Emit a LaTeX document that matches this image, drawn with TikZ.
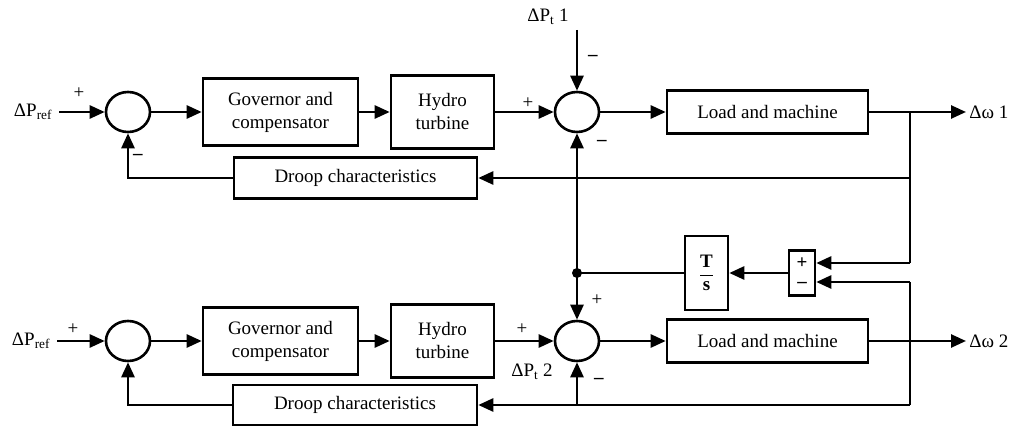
\documentclass[tikz,border=0pt]{standalone}
\usepackage{fontspec}
\setmainfont{Liberation Serif}
\usetikzlibrary{arrows.meta,shapes.geometric}
\newcommand\mn{\textbf{–}}
\begin{document}
\begin{tikzpicture}[x=1pt,y=-1pt,
  line width=2.6pt,
  every node/.style={font=\fontsize{19}{23}\selectfont},
  blk/.style={draw, rectangle, inner sep=0pt, align=center, line width=2.6pt},
  sumc/.style={draw, ellipse, minimum width=44pt, minimum height=40pt, inner sep=0pt},
  arr/.style={-{Triangle[length=15pt,width=13pt]}},
  sgn/.style={inner sep=0pt},
  lbl/.style={inner sep=0pt}
]
\useasboundingbox (0,0) rectangle (1013,427);

% ---------- top loop ----------
\node[lbl] (ref1) at (33,112) {ΔP\textsubscript{ref}};
\node[sumc] (s11) at (128,112) {};
\node[blk, minimum width=155pt, minimum height=67pt] (gov1) at (280.5,112) {Governor and\\compensator};
\node[blk, minimum width=103pt, minimum height=73pt] (hyd1) at (442.5,112) {Hydro\\turbine};
\node[sumc] (s12) at (577,112) {};
\node[blk, minimum width=201pt, minimum height=43pt] (load1) at (767.5,112) {Load and machine};
\node[blk, minimum width=243pt, minimum height=41pt] (droop1) at (355.5,178) {Droop characteristics};
\node[lbl, anchor=west] (w1) at (968,112) {Δω 1};
\node[lbl] (pt1) at (548,17) {ΔP\textsubscript{t} 1};
\coordinate (t1) at (577,30);

% ---------- bottom loop ----------
\node[lbl] (ref2) at (31,341) {ΔP\textsubscript{ref}};
\node[sumc] (s21) at (128,341) {};
\node[blk, minimum width=155pt, minimum height=67pt] (gov2) at (280.5,341) {Governor and\\compensator};
\node[blk, minimum width=103pt, minimum height=73pt] (hyd2) at (442.5,341) {Hydro\\turbine};
\node[sumc] (s22) at (577,341) {};
\node[blk, minimum width=201pt, minimum height=43pt] (load2) at (767.5,341) {Load and machine};
\node[blk, minimum width=244pt, minimum height=40pt] (droop2) at (355,405) {Droop characteristics};
\node[lbl, anchor=west] (w2) at (968,341) {Δω 2};
\node[lbl] (pt2) at (532,372) {ΔP\textsubscript{t} 2};

% ---------- tie-line part ----------
\node[blk, minimum width=43pt, minimum height=74pt] (ts) at (706.5,273)
  {$\displaystyle\frac{\hbox{\bfseries T}}{\hbox{\bfseries s}}$};
\node[blk, minimum width=26pt, minimum height=45pt, font=\fontsize{19}{19}\selectfont\bfseries] (pm) at (802,273) {+\\–};
\node[circle, fill, inner sep=0pt, minimum size=10pt] (dot) at (577,273) {};

\coordinate (b1) at (910,112);
\coordinate (b1d) at (910,178);
\coordinate (b1p) at (910,263);
\coordinate (b2u) at (910,282);
\coordinate (b2d) at (910,405);

% ---------- connectors top ----------
\draw[arr] ([xshift=6pt]ref1.east) -- (s11.west);
\draw[arr] (s11.east) -- (gov1.west);
\draw[arr] (gov1.east) -- (hyd1.west);
\draw[arr] (hyd1.east) -- (s12.west);
\draw[arr] (s12.east) -- (load1.west);
\draw[arr] (load1.east) -- ([xshift=-2pt]w1.west);
\draw (b1) -- (b1p);
\draw[arr] (b1p) -- (pm.east |- b1p);
\draw[arr] (b1d) -- (droop1.east);
\draw[arr] (droop1.west) -| (s11.south);
\draw[arr] (t1) -- (s12.north);

% ---------- connectors bottom ----------
\draw[arr] ([xshift=6pt]ref2.east) -- (s21.west);
\draw[arr] (s21.east) -- (gov2.west);
\draw[arr] (gov2.east) -- (hyd2.west);
\draw[arr] (hyd2.east) -- (s22.west);
\draw[arr] (s22.east) -- (load2.west);
\draw[arr] (load2.east) -- ([xshift=-2pt]w2.west);
\draw (b2u) -- (b2d);
\draw[arr] (b2u) -- (pm.east |- b2u);
\draw[arr] (b2d) -- (droop2.east);
\draw[arr] (s22.south |- b2d) -- (s22.south);
\draw[arr] (droop2.west) -| (s21.south);

% ---------- tie connectors ----------
\draw[arr] (pm.west) -- (ts.east);
\draw (ts.west) -- (dot.center);
\draw[arr] (dot.center) -- (s12.south);
\draw[arr] (dot.center) -- (s22.north);

% ---------- signs ----------
\node[sgn] (p1) at (79,93) {+};
\node[sgn] (m1) at (138,157) {\mn};
\node[sgn] (p2) at (528,103) {+};
\node[sgn] (m2) at (593,58) {\mn};
\node[sgn] (m3) at (602,143) {\mn};
\node[sgn] (p3) at (73,329) {+};
\node[sgn] (p4) at (522,329) {+};
\node[sgn] (p5) at (597,300) {+};
\node[sgn] (m4) at (599,381) {\mn};
\end{tikzpicture}
\end{document}
